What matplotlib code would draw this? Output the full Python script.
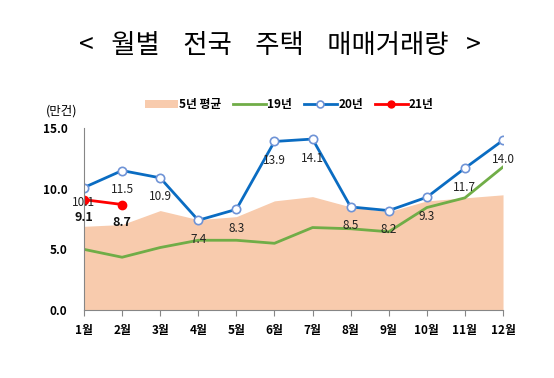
import matplotlib
matplotlib.use("Agg")
import matplotlib.pyplot as plt

plt.rcParams['font.family'] = ['Noto Sans CJK KR', 'DejaVu Sans']

months = ["1월", "2월", "3월", "4월", "5월", "6월", "7월", "8월", "9월", "10월", "11월", "12월"]
avg5 = [6.9, 7.05, 8.2, 7.45, 7.7, 9.0, 9.35, 8.5, 8.1, 9.0, 9.25, 9.5]
y19 = [5.0, 4.35, 5.15, 5.75, 5.75, 5.5, 6.8, 6.7, 6.45, 8.45, 9.25, 11.8]
y20 = [10.1, 11.5, 10.9, 7.4, 8.3, 13.9, 14.1, 8.5, 8.2, 9.3, 11.7, 14.0]
y21 = [9.1, 8.7]

fig = plt.figure(figsize=(5.54, 3.78), dpi=100)
ax = fig.add_axes([0.1516, 0.18, 0.7564, 0.481])
x = list(range(len(months)))

ax.fill_between(x, avg5, 0, color="#F8CBAD", lw=0, label="5년 평균")
ax.plot(x, y19, color="#70AD47", lw=2, label="19년")
ax.plot(x, y20, color="#0A6CC2", lw=2, marker="o", ms=6, mfc="white",
        mec="#6F93D6", mew=1.2, label="20년")
ax.plot(x[:len(y21)], y21, color="#FF0000", lw=2, marker="o", ms=6,
        mfc="#FF0000", mec="#FF0000", label="21년")

# data labels
for i, v in enumerate(y20):
    dy = -6 if i == 0 else -9
    ax.annotate(f"{v:.1f}", (i, v), xytext=(0, dy), textcoords="offset points",
                ha="center", va="top", fontsize=8.5, color="#222222")
for i, v in enumerate(y21):
    ax.annotate(f"{v:.1f}", (i, v), xytext=(0, -8), textcoords="offset points",
                ha="center", va="top", fontsize=9, fontweight="bold", color="#111111")

ax.set_xlim(0, 11)
ax.set_ylim(0, 15)
ax.set_xticks(x)
ax.set_xticklabels(months, fontsize=8.5, fontweight="bold")
ax.set_yticks([0, 5, 10, 15])
ax.set_yticklabels(["0.0", "5.0", "10.0", "15.0"], fontsize=8.5, fontweight="bold")
for s in ["top", "right"]:
    ax.spines[s].set_visible(False)
for s in ["left", "bottom"]:
    ax.spines[s].set_color("#868686")
ax.tick_params(axis="x", direction="out", length=4, color="#868686", pad=6)
ax.tick_params(axis="y", length=0, pad=12)

fig.text(0.112, 0.705, "(만건)", fontsize=9, ha="center", va="center")

leg = ax.legend(loc="lower center", bbox_to_anchor=(0.49, 1.06), ncol=4, frameon=False,
                prop={"size": 8.5, "weight": "bold"}, handlelength=2.8,
                handletextpad=0.1, columnspacing=1.0, borderpad=0)
for h in leg.get_lines():
    h.set_markersize(5)

fig.text(0.505, 0.88, "<   월별    전국    주택    매매거래량   >", fontsize=19,
         ha="center", va="center")

fig.savefig("out.png", dpi=100)
